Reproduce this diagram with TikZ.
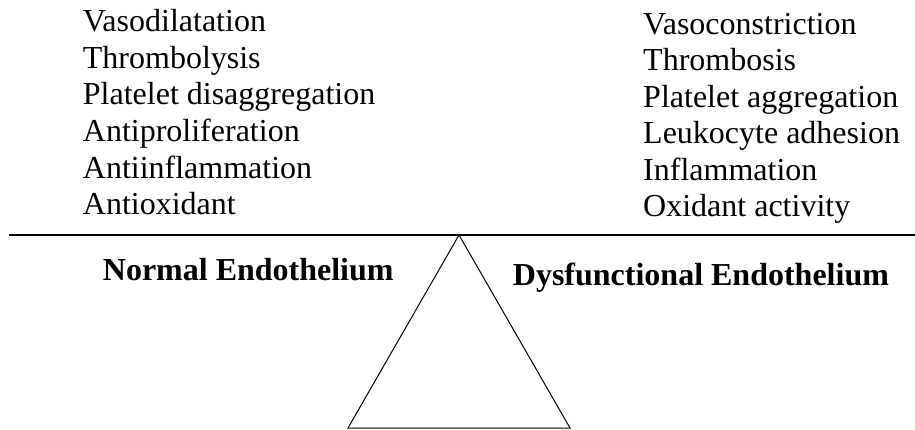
\documentclass[tikz,border=0pt]{standalone}
\usepackage{fontspec}
\setmainfont{Liberation Serif}

\begin{document}
\begin{tikzpicture}[x=1pt, y=-1pt, font=\fontsize{32}{36}\selectfont,
	item/.style={anchor=base west, inner sep=0pt},
	side/.style={anchor=base west, inner sep=0pt, font=\fontsize{32}{36}\selectfont\bfseries}]
	\useasboundingbox (0,0) rectangle (915,430);
	\foreach \t [count=\i] in {Vasodilatation, Thrombolysis, Platelet disaggregation, Antiproliferation, Antiinflammation, Antioxidant} {
		\node[item] (good\i) at (82.7, {31.7+36.6*(\i-1)}) {\t};
	}
	\foreach \t [count=\i] in {Vasoconstriction, Thrombosis, Platelet aggregation, Leukocyte adhesion, Inflammation, Oxidant activity} {
		\node[item] (bad\i) at (643, {34.3+36.5*(\i-1)}) {\t};
	}
	% beam and pivot
	\coordinate (beamL) at (9,235);
	\coordinate (beamR) at (915,235);
	\coordinate (apex) at (459,235);
	\coordinate (baseL) at (348,428);
	\coordinate (baseR) at (570,428);
	\draw[line width=1.6pt] (beamL) -- (beamR);
	\draw[line width=1pt, line join=miter] (apex) -- (baseL) -- (baseR) -- cycle;
	\node[side] (normal) at (102.7,280.7) {Normal Endothelium};
	\node[side] (dysfunc) at (512.7,285) {Dysfunctional Endothelium};
\end{tikzpicture}
\end{document}
